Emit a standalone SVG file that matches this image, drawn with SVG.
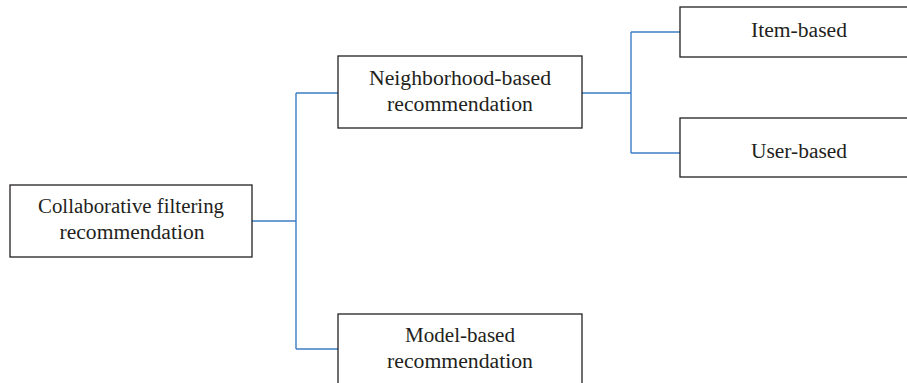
<svg xmlns="http://www.w3.org/2000/svg" width="907" height="383" viewBox="0 0 907 383">
  <style>
    .box { fill: #ffffff; stroke: #231f20; stroke-width: 1.3; }
    .lbl { font-family: "Liberation Serif", "Times New Roman", serif; font-size: 20px; fill: #231f20; text-anchor: middle; }
    .link { fill: none; stroke: #3b7dc4; stroke-width: 1.4; }
  </style>
  <rect width="907" height="383" fill="#ffffff"/>

  <g id="connectors">
    <path class="link" d="M252,221 H296"/>
    <path class="link" d="M296,93 V349"/>
    <path class="link" d="M296,93 H338"/>
    <path class="link" d="M296,349 H338"/>
    <path class="link" d="M582,93 H631"/>
    <path class="link" d="M631,32 V153"/>
    <path class="link" d="M631,32 H680"/>
    <path class="link" d="M631,153 H680"/>
  </g>

  <g id="collaborative-filtering">
    <rect class="box" x="10" y="185" width="242" height="72"/>
    <text class="lbl" x="131" y="213" textLength="186" lengthAdjust="spacingAndGlyphs">Collaborative filtering</text>
    <text class="lbl" x="132" y="239" textLength="145" lengthAdjust="spacingAndGlyphs">recommendation</text>
  </g>

  <g id="neighborhood-based">
    <rect class="box" x="338" y="56" width="244" height="72"/>
    <text class="lbl" x="460" y="85" textLength="182" lengthAdjust="spacingAndGlyphs">Neighborhood-based</text>
    <text class="lbl" x="460" y="111" textLength="146" lengthAdjust="spacingAndGlyphs">recommendation</text>
  </g>

  <g id="model-based">
    <rect class="box" x="338" y="314" width="244" height="80"/>
    <text class="lbl" x="460" y="342" textLength="110" lengthAdjust="spacingAndGlyphs">Model-based</text>
    <text class="lbl" x="460" y="368" textLength="146" lengthAdjust="spacingAndGlyphs">recommendation</text>
  </g>

  <g id="item-based">
    <rect class="box" x="680" y="7" width="240" height="50"/>
    <text class="lbl" x="799" y="37" textLength="96" lengthAdjust="spacingAndGlyphs">Item-based</text>
  </g>

  <g id="user-based">
    <rect class="box" x="680" y="118" width="240" height="59"/>
    <text class="lbl" x="799" y="158" textLength="96" lengthAdjust="spacingAndGlyphs">User-based</text>
  </g>
</svg>
